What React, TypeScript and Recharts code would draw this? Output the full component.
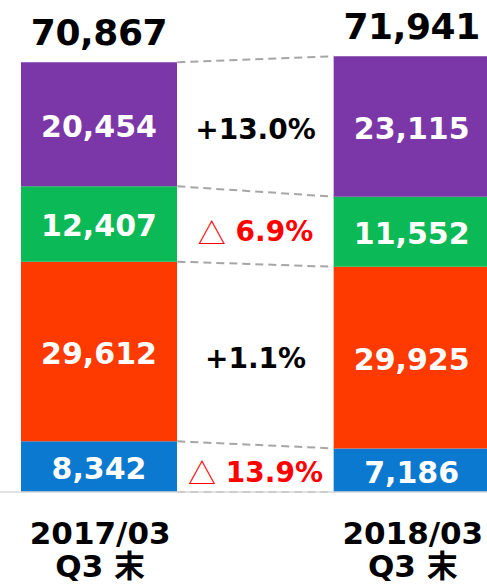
import React from "react";
import { BarChart, Bar, XAxis, YAxis, LabelList, ReferenceLine, ReferenceDot } from "recharts";

const categories = ["2017/03", "mid", "2018/03"];
const subLabels = ["Q3 末", "", "Q3 末"];
const blueValues = [8342, null, 7186];
const orangeValues = [29612, null, 29925];
const greenValues = [12407, null, 11552];
const purpleValues = [20454, null, 23115];
const totals = [70867, null, 71941];
// change labels, bottom segment to top segment
const changeLabels = ["△ 13.9%", "+1.1%", "△ 6.9%", "+13.0%"];

const COLORS = { blue: "#0B79CF", orange: "#FF3A00", green: "#0BB956", purple: "#7B36A8" };
const FONT = "'DejaVu Sans', 'Noto Sans CJK JP', sans-serif";

const data = categories.map((c, i) => ({
  cat: c,
  blue: blueValues[i],
  orange: orangeValues[i],
  green: greenValues[i],
  purple: purpleValues[i],
  total: totals[i],
}));

const segKeys = ["blue", "orange", "green", "purple"] as const;
const leftIdx = 0;
const rightIdx = 2;
const stackOf = (i: number) => [blueValues[i]!, orangeValues[i]!, greenValues[i]!, purpleValues[i]!];
const cum = (arr: number[]) => {
  const out = [0];
  arr.forEach((v) => out.push(out[out.length - 1] + v));
  return out;
};
const leftCum = cum(stackOf(leftIdx));
const rightCum = cum(stackOf(rightIdx));

const fmt = (v: number) => v.toLocaleString("en-US");

const SegLabel = (props: any) => {
  const { x, y, width, height, value } = props;
  if (value == null) return null;
  return (
    <text
      x={x + width / 2}
      y={y + height / 2 + 2}
      textAnchor="middle"
      dominantBaseline="central"
      fill="#fff"
      fontFamily={FONT}
      fontWeight="bold"
      fontSize={30}
    >
      {fmt(value)}
    </text>
  );
};

const TotalLabel = (props: any) => {
  const { x, y, width, value } = props;
  if (value == null) return null;
  return (
    <text
      x={x + width / 2}
      y={y - 17}
      textAnchor="middle"
      fill="#000"
      fontFamily={FONT}
      fontWeight="bold"
      fontSize={36}
      letterSpacing={-0.4}
    >
      {fmt(value)}
    </text>
  );
};

const Tick = (props: any) => {
  const { x, y, index } = props;
  if (categories[index] === "mid") return null;
  return (
    <g>
      <text x={x + 1} y={y + 44} textAnchor="middle" fill="#000" fontFamily={FONT} fontWeight="bold" fontSize={31}>
        {categories[index]}
      </text>
      <text x={x + 1} y={y + 77} textAnchor="middle" fill="#000" fontFamily={FONT} fontWeight="bold" fontSize={31}>
        {subLabels[index]}
      </text>
    </g>
  );
};

const changeShape = (label: string) => (p: any) => {
  const neg = label.startsWith("△");
  const body = neg ? label.slice(1) : label;
  return (
    <text
      x={p.cx}
      y={p.cy + 4}
      textAnchor="middle"
      dominantBaseline="central"
      fill={neg ? "#FF0000" : "#000"}
      fontFamily={FONT}
      fontWeight="bold"
      fontSize={28}
    >
      {neg && (
        <tspan fontWeight="normal" fontFamily="'Noto Sans CJK JP', sans-serif">
          △
        </tspan>
      )}
      {body}
    </text>
  );
};

export default function App() {
  return (
    <div
      style={{
        position: "absolute",
        left: 0,
        top: 0,
        width: 487,
        height: 587,
        overflow: "hidden",
        background: "#fff",
      }}
    >
      <BarChart
        width={491}
        height={587}
        data={data}
        margin={{ top: 55, right: 0, left: 0, bottom: 0 }}
        barCategoryGap={0}
        barGap={0}
      >
        <XAxis
          dataKey="cat"
          height={95}
          padding={{ left: 21, right: 1 }}
          axisLine={{ stroke: "#D9D9D9", strokeWidth: 1.5 }}
          tickLine={false}
          tick={<Tick />}
          interval={0}
        />
        <YAxis hide type="number" domain={[0, 72000]} />
        {segKeys.map((k) => (
          <Bar key={k} dataKey={k} stackId="a" fill={COLORS[k]} isAnimationActive={false}>
            <LabelList dataKey={k} content={<SegLabel />} />
            {k === "purple" && <LabelList dataKey="total" content={<TotalLabel />} />}
          </Bar>
        ))}
        {leftCum.map((lv, i) => (
          <ReferenceLine
            key={"c" + i}
            segment={[
              { x: "mid", y: lv },
              { x: "2018/03", y: rightCum[i] },
            ]}
            position="start"
            stroke="#A6A6A6"
            strokeWidth={2}
            strokeDasharray="8 5"
            ifOverflow="visible"
          />
        ))}
        {changeLabels.map((lab, i) => {
          const lmid = leftCum[i] + (leftCum[i + 1] - leftCum[i]) / 2;
          const rmid = rightCum[i] + (rightCum[i + 1] - rightCum[i]) / 2;
          return (
            <ReferenceDot
              key={"l" + i}
              x="mid"
              y={(lmid + rmid) / 2}
              r={0}
              ifOverflow="visible"
              shape={changeShape(lab)}
            />
          );
        })}
      </BarChart>
    </div>
  );
}
